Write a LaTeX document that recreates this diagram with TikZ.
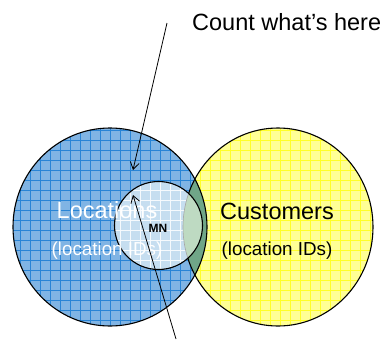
\documentclass[tikz,border=0pt]{standalone}
\usepackage{fontspec}
\setmainfont{Liberation Sans}
\usetikzlibrary{arrows.meta}
\definecolor{blueFill}{RGB}{128,180,228}
\definecolor{blueLine}{RGB}{40,132,214}
\definecolor{yelFill}{RGB}{255,255,150}
\definecolor{yelLine}{RGB}{255,255,40}
\definecolor{smallFill}{RGB}{198,222,240}
\definecolor{lensDark}{RGB}{112,166,136}
\definecolor{lensLight}{RGB}{190,218,194}
\tikzset{
  outline/.style={draw=black, line width=1.1pt},
  gridlines/.style={line width=0.9pt},
  arr/.style={draw=black, line width=0.8pt, -{Straight Barb[length=7pt,width=9pt]}},
  bigtxt/.style={font=\fontsize{23.5}{26}\selectfont, inner sep=0pt, anchor=base},
  midtxt/.style={font=\fontsize{18.8}{22}\selectfont, inner sep=0pt, anchor=base},
}
\newcommand{\bluepath}{(110,227) ellipse [x radius=97pt, y radius=99pt]}
\newcommand{\yelpath}{(278,227) ellipse [x radius=95pt, y radius=99pt]}
\newcommand{\smallpath}{(158.5,225.5) circle [radius=44pt]}
\begin{document}
\begin{tikzpicture}[x=1pt,y=-1pt]
\useasboundingbox (0,0) rectangle (386,341);
% blue circle
\fill[blueFill] \bluepath;
\begin{scope}
  \clip \bluepath;
  \draw[blueLine, gridlines, step=10pt] (0,0) grid (390,345);
\end{scope}
% yellow circle
\fill[yelFill] \yelpath;
\begin{scope}
  \clip \yelpath;
  \draw[yelLine, gridlines, step=10pt] (0,0) grid (390,345);
\end{scope}
% lens
\begin{scope}
  \clip \bluepath;
  \fill[lensDark] \yelpath;
\end{scope}
\draw[outline] \bluepath;
\draw[outline] \yelpath;
% small circle
\fill[smallFill] \smallpath;
\begin{scope}
  \clip \smallpath;
  \draw[white!85!smallFill, line width=0.6pt, step=10pt] (0,0) grid (390,345);
  \fill[lensLight] \yelpath;
  \draw[gray!70, line width=0.6pt] \yelpath;
\end{scope}
\draw[outline] \smallpath;
% labels
\node[bigtxt, white] (loc) at (107,218) {Locations};
\node[midtxt, white] (locid) at (107,255) {(location IDs)};
\node[bigtxt] (cust) at (277,219) {Customers};
\node[midtxt] (custid) at (277,255) {(location IDs)};
\node[font=\bfseries\fontsize{12}{14}\selectfont, inner sep=0pt, anchor=base] (mn) at (158,232) {MN};
\node[font=\fontsize{23.5}{26}\selectfont, inner sep=0pt, anchor=base west] (count) at (192,30) {Count what’s here};
% arrows
\coordinate (a1s) at (167,23);
\coordinate (a1e) at (133,170);
\coordinate (a2s) at (176,339);
\coordinate (a2e) at (133,195);
\draw[arr] (a1s) -- (a1e);
\draw[arr] (a2s) -- (a2e);
\end{tikzpicture}
\end{document}
